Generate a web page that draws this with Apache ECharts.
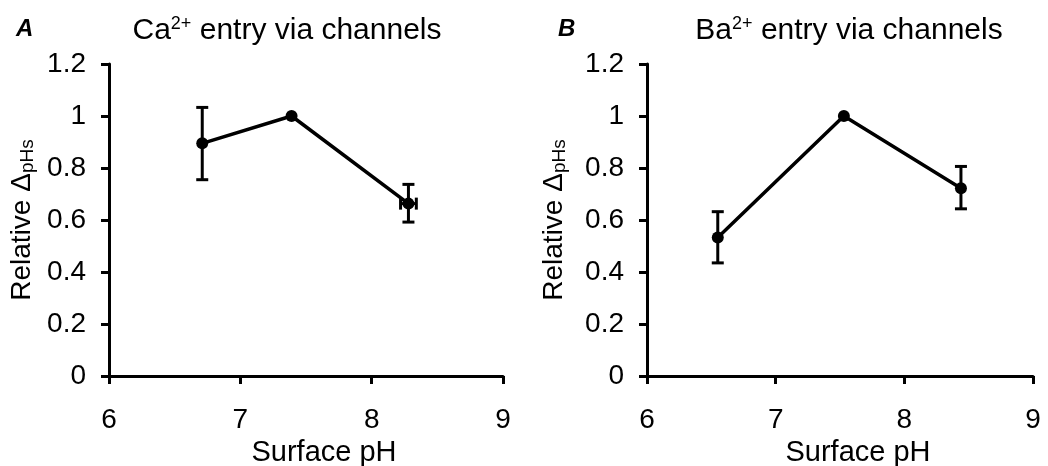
<!DOCTYPE html>
<html><head><meta charset="utf-8">
<script src="https://cdn.jsdelivr.net/npm/echarts@6/dist/echarts.min.js"></script>
<style>html,body{margin:0;padding:0;background:#fff}#c{width:1048px;height:466px}</style>
</head><body><div id="c"></div>
<script>
// Panel A: Ca2+ entry via channels
const phA = [6.71, 7.39, 8.28];
const relA = [0.895, 1.0, 0.663];
const errLowA = [0.755, 1.0, 0.592];
const errHighA = [1.033, 1.0, 0.737];
const xErrA = [0, 0, 0.06];
// Panel B: Ba2+ entry via channels
const phB = [6.55, 7.53, 8.44];
const relB = [0.533, 1.0, 0.722];
const errLowB = [0.435, 1.0, 0.643];
const errHighB = [0.632, 1.0, 0.806];
const xErrB = [0, 0, 0];
const yTicks = ['0', '0.2', '0.4', '0.6', '0.8', '1', '1.2'];
const xTicks = ['6', '7', '8', '9'];

const FONT = 'Liberation Sans, Arial, sans-serif';
const chart = echarts.init(document.getElementById('c'), null, {renderer: 'canvas'});

function xAxis(idx) {
  return {
    type: 'value', gridIndex: idx, min: 6, max: 9, interval: 1,
    axisLine: {lineStyle: {color: '#000', width: 3}},
    axisTick: {show: true, inside: false, length: 8, lineStyle: {color: '#000', width: 3}},
    splitLine: {show: false},
    axisLabel: {color: '#000', fontSize: 28, fontFamily: FONT, margin: 30,
      formatter: v => xTicks[Math.round(v - 6)]},
    name: 'Surface pH', nameLocation: 'middle', nameGap: 52,
    nameTextStyle: {color: '#000', fontSize: 29, fontFamily: FONT, padding: [0, 0, 0, 36]}
  };
}
function yAxis(idx, gap) {
  return {
    type: 'value', gridIndex: idx, min: 0, max: 1.2, interval: 0.2,
    axisLine: {lineStyle: {color: '#000', width: 3}},
    axisTick: {show: true, inside: false, length: 8, lineStyle: {color: '#000', width: 3}},
    splitLine: {show: false},
    axisLabel: {color: '#000', fontSize: 28, fontFamily: FONT, margin: 23,
      formatter: v => yTicks[Math.round(v / 0.2)]},
    name: '{m|Relative Δ}{sub|pHs}', nameLocation: 'middle', nameGap: gap,
    nameTextStyle: {color: '#000', fontSize: 27, fontFamily: FONT,
      rich: {
        m: {fontSize: 28, fontFamily: FONT, color: '#000'},
        sub: {fontSize: 19, fontFamily: FONT, color: '#000', padding: [10, 0, 0, 0]}
      }}
  };
}
function errSeries(idx, ph, rel, lo, hi, xe) {
  return {
    type: 'custom', xAxisIndex: idx, yAxisIndex: idx, z: 3,
    data: ph.map((x, i) => [x, rel[i], lo[i], hi[i], xe[i]]),
    renderItem: function (params, api) {
      const x = api.value(0), y = api.value(1), lo = api.value(2), hi = api.value(3), xe = api.value(4);
      const children = [];
      const style = {stroke: '#000', lineWidth: 3};
      if (hi > lo) {
        const pL = api.coord([x, lo]), pH = api.coord([x, hi]);
        children.push({type: 'line', shape: {x1: pL[0], y1: pL[1], x2: pH[0], y2: pH[1]}, style});
        children.push({type: 'line', shape: {x1: pL[0] - 6, y1: pL[1], x2: pL[0] + 6, y2: pL[1]}, style});
        children.push({type: 'line', shape: {x1: pH[0] - 6, y1: pH[1], x2: pH[0] + 6, y2: pH[1]}, style});
      }
      if (xe > 0) {
        const pA = api.coord([x - xe, y]), pB = api.coord([x + xe, y]);
        children.push({type: 'line', shape: {x1: pA[0], y1: pA[1], x2: pB[0], y2: pB[1]}, style});
        children.push({type: 'line', shape: {x1: pA[0], y1: pA[1] - 6, x2: pA[0], y2: pA[1] + 6}, style});
        children.push({type: 'line', shape: {x1: pB[0], y1: pB[1] - 6, x2: pB[0], y2: pB[1] + 6}, style});
      }
      return {type: 'group', children};
    }
  };
}
function lineSeries(idx, ph, rel) {
  return {
    type: 'line', xAxisIndex: idx, yAxisIndex: idx, z: 4,
    data: ph.map((x, i) => [x, rel[i]]),
    symbol: 'circle', symbolSize: 12,
    itemStyle: {color: '#000'},
    lineStyle: {color: '#000', width: 3.5}
  };
}
const titleRich = {
  t: {fontSize: 30, fontWeight: 'normal', fontFamily: FONT, color: '#000'},
  sup: {fontSize: 18, fontWeight: 'normal', fontFamily: FONT, color: '#000', padding: [0, 0, 13, 0]}
};
chart.setOption({
  animation: false,
  backgroundColor: '#fff',
  title: [
    {text: 'A', left: 11, top: 12, textStyle: {fontSize: 24, fontWeight: 'bold', fontStyle: 'italic', fontFamily: FONT, color: '#000'}},
    {text: 'B', left: 553, top: 12, textStyle: {fontSize: 24, fontWeight: 'bold', fontStyle: 'italic', fontFamily: FONT, color: '#000'}},
    {text: '{t|Ca}{sup|2+}{t| entry via channels}', left: 282, top: 10, textAlign: 'center',
      textStyle: {fontWeight: 'normal', rich: titleRich}},
    {text: '{t|Ba}{sup|2+}{t| entry via channels}', left: 844, top: 10, textAlign: 'center',
      textStyle: {fontWeight: 'normal', rich: titleRich}}
  ],
  grid: [
    {left: 109, right: 545, top: 64, bottom: 90, outerBoundsMode: 'none', containLabel: false},
    {left: 647, right: 15, top: 64, bottom: 90, outerBoundsMode: 'none', containLabel: false}
  ],
  xAxis: [xAxis(0), xAxis(1)],
  yAxis: [yAxis(0, 72), yAxis(1, 78)],
  series: [
    errSeries(0, phA, relA, errLowA, errHighA, xErrA),
    lineSeries(0, phA, relA),
    errSeries(1, phB, relB, errLowB, errHighB, xErrB),
    lineSeries(1, phB, relB)
  ]
});
</script></body></html>
